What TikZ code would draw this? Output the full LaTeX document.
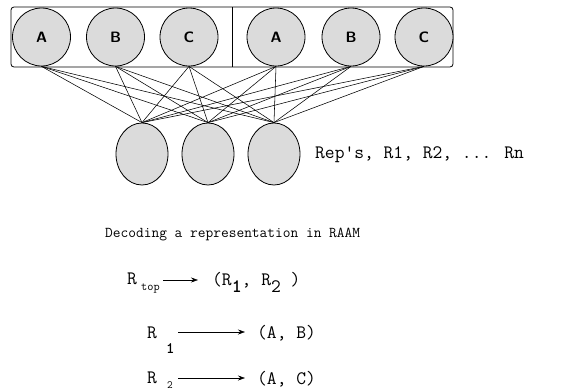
\documentclass[tikz,border=0pt]{standalone}
\usetikzlibrary{arrows.meta,shapes.geometric}
\begin{document}
\begin{tikzpicture}[x=1pt,y=-1pt,
  topu/.style={draw,thick,fill=gray!28,circle,minimum size=58pt,inner sep=0pt,font=\fontsize{15}{15}\selectfont\sffamily\bfseries},
  botu/.style={draw,thick,fill=gray!28,ellipse,minimum width=52pt,minimum height=62pt,inner sep=0pt},
  conn/.style={line width=0.55pt},
  lbl/.style={inner sep=0pt,anchor=base west},
  arr/.style={-{Stealth[length=7pt,width=5pt]},line width=0.6pt}]
\useasboundingbox (0,0) rectangle (583,391);
\draw[thick,rounded corners=3pt] (11,7) rectangle (453,67);
\draw[thick] (232,7) -- (232,67);
\node[topu] (a1) at (41.5,37) {A};
\node[topu] (b1) at (115.5,37) {B};
\node[topu] (c1) at (189,37) {C};
\node[topu] (a2) at (276,37) {A};
\node[topu] (b2) at (351,37) {B};
\node[topu] (c2) at (424,37) {C};
\node[botu] (h1) at (142,154) {};
\node[botu] (h2) at (208,154) {};
\node[botu] (h3) at (274,154) {};
\foreach \s in {a1,b1,c1,a2,b2,c2}{
  \foreach \t in {h1,h2,h3}{
    \draw[conn] (\s.south) -- (\t.north);
  }
}
\node[lbl,font=\fontsize{19}{19}\selectfont\ttfamily] (reps) at (315,158) {Rep's, R1, R2, ... Rn};
\node[lbl,font=\fontsize{15}{15}\selectfont\ttfamily] (title) at (105,237) {Decoding a representation in RAAM};
\begin{scope}[every node/.style={lbl,font=\fontsize{19}{19}\selectfont\ttfamily}]
\node (rtop) at (127,284) {R};
\node[font=\fontsize{12}{12}\selectfont\ttfamily] (tsub) at (141,290) {top};
\node (p1) at (212,285) {(R\raisebox{-7pt}{\bfseries 1}, R\raisebox{-7pt}{2} )};
\node (r1) at (147,338) {R};
\node[font=\fontsize{16}{16}\selectfont\ttfamily\bfseries] (r1s) at (166,353) {1};
\node (p2) at (257,338) {(A, B)};
\node (r2) at (147,383) {R};
\node[font=\fontsize{11}{11}\selectfont\ttfamily] (r2s) at (167,388) {2};
\node (p3) at (257,384) {(A, C)};
\end{scope}
\coordinate (s1) at (163,280);
\coordinate (e1) at (198,280);
\draw[arr] (s1) -- (e1);
\coordinate (s2) at (178,332);
\coordinate (e2) at (245,332);
\draw[arr] (s2) -- (e2);
\coordinate (s3) at (178,378);
\coordinate (e3) at (245,378);
\draw[arr] (s3) -- (e3);
\end{tikzpicture}
\end{document}
